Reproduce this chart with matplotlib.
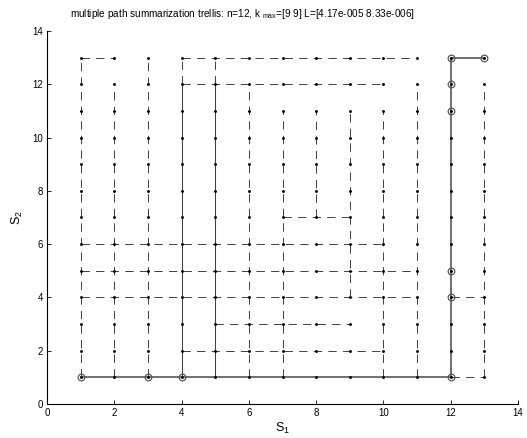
import matplotlib
matplotlib.use("Agg")
import matplotlib.pyplot as plt

plt.rcParams["font.family"] = ["Liberation Sans", "DejaVu Sans"]
plt.rcParams["mathtext.fontset"] = "custom"
plt.rcParams["mathtext.rm"] = "Liberation Sans"
plt.rcParams["mathtext.it"] = "Liberation Sans"
plt.rcParams["lines.scale_dashes"] = False

# trellis states (S1 and S2 both 1..13)
states = [1, 2, 3, 4, 5, 6, 7, 8, 9, 10, 11, 12, 13]

# dashed horizontal pieces: (S2 row, S1 from, S1 to)
h_rows = [13, 13, 12, 7, 6, 5, 4, 4, 3, 2, 1]
h_from = [1, 4, 4, 7, 1, 1, 1, 12, 5, 4, 12]
h_to = [2, 11, 10, 9, 10, 11, 11, 13, 9, 10, 13]

# dashed vertical pieces: (S1 column, S2 from, S2 to)
v_cols = [1, 2, 3, 4, 5, 6, 7, 8, 9, 10, 11, 13]
v_from = [1, 1, 1, 12, 12, 1, 1, 7, 4, 1, 1, 1]
v_to = [13, 12, 13, 13, 13, 12, 11, 11, 11, 11, 12, 12]

# columns where many dashed paths overlap (look solid)
dense_cols = [4, 5]
dense_from = [1, 1]
dense_to = [12, 12]

# best (solid) path
path_s1 = [1, 12, 12, 13]
path_s2 = [1, 1, 13, 13]

# circled states
circ_s1 = [1, 3, 4, 12, 12, 12, 12, 12, 12, 13]
circ_s2 = [1, 1, 1, 1, 4, 5, 11, 12, 13, 13]

fig = plt.figure(figsize=(5.27, 4.38), dpi=100)
fig.patch.set_facecolor("white")
ax = fig.add_axes([47 / 527, 34 / 438, 471 / 527, 373 / 438])

dash = (0, (6, 4.5))
lc = "0.25"
for r, a, b in zip(h_rows, h_from, h_to):
    ax.plot([a, b], [r, r], color=lc, lw=0.7, linestyle=dash)
for c, a, b in zip(v_cols, v_from, v_to):
    ax.plot([c, c], [a, b], color=lc, lw=0.7, linestyle=dash)
for c, a, b in zip(dense_cols, dense_from, dense_to):
    ax.plot([c, c], [a, b], color="0.25", lw=0.75)

ax.plot(path_s1, path_s2, color="0.4", lw=1.3, zorder=3)

# all trellis states as dots
gx = [s for s in states for _ in states]
gy = [t for _ in states for t in states]
ax.plot(gx, gy, "o", color="black", ms=2.1, mew=0, zorder=4)

ax.plot(circ_s1, circ_s2, "o", mfc="none", mec="0.35", ms=4.8, mew=0.9, zorder=5)

ax.set_xlim(0, 14)
ax.set_ylim(0, 14)
ax.set_xticks([0, 2, 4, 6, 8, 10, 12, 14])
ax.set_yticks([0, 2, 4, 6, 8, 10, 12, 14])
for s in ["top", "right"]:
    ax.spines[s].set_visible(False)
for s in ["left", "bottom"]:
    ax.spines[s].set_linewidth(0.8)
ax.tick_params(direction="in", length=3, width=0.6, labelsize=7, pad=3)

ax.set_xlabel("S$_1$", fontsize=9, labelpad=2)
ax.set_ylabel("S$_2$", fontsize=9, labelpad=5)

fig.text(70 / 527, 1 - 17 / 438,
         "multiple path summarization trellis: n=12, k $_{\\rm max}$=[9 9] L=[4.17e-005 8.33e-006]",
         fontsize=7.2, ha="left", va="baseline")

fig.savefig("out.png", dpi=100)
